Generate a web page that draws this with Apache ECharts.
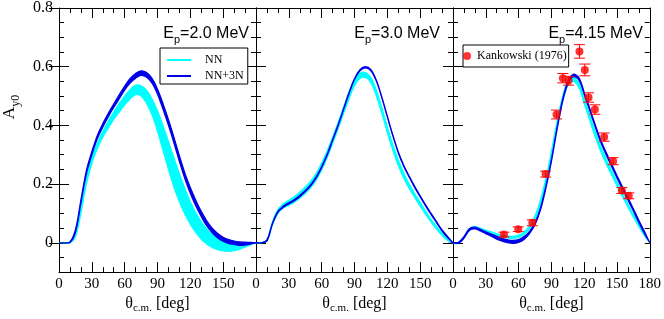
<!DOCTYPE html>
<html><head><meta charset="utf-8">
<script src="https://cdn.jsdelivr.net/npm/echarts@6/dist/echarts.min.js"></script>
<style>html,body{margin:0;padding:0;background:#fff}#c{width:664px;height:319px}</style>
</head><body><div id="c"></div>
<script>
// ---- data ----
const theta = [0,5,10,15,20,25,30,35,40,45,50,55,60,65,70,75,80,85,90,95,100,105,110,115,120,125,130,135,140,145,150,155,160,165,170,175,180];
const xTickLabels = [0,30,60,90,120,150,180];
const yTickLabels = [0,0.2,0.4,0.6,0.8];
const panelTitles = ['2.0','3.0','4.15'];

// Panel 1: Ep = 2.0 MeV
const nnLo1 = [0,0,-0.001,0.02,0.10,0.20,0.27,0.32,0.36,0.39,0.42,0.445,0.47,0.49,0.505,0.50,0.475,0.435,0.38,0.315,0.25,0.19,0.14,0.098,0.063,0.035,0.012,-0.004,-0.016,-0.024,-0.028,-0.029,-0.027,-0.022,-0.015,-0.007,0];
const nnHi1 = [0,0,0.001,0.03,0.12,0.22,0.29,0.34,0.38,0.415,0.445,0.475,0.50,0.522,0.537,0.535,0.52,0.49,0.45,0.40,0.345,0.29,0.235,0.185,0.14,0.103,0.072,0.047,0.028,0.014,0.005,0.0,-0.003,-0.004,-0.003,-0.001,0];
const n3Lo1 = [0,0,0.001,0.035,0.134,0.234,0.299,0.354,0.394,0.429,0.461,0.49,0.52,0.544,0.561,0.57,0.564,0.544,0.506,0.455,0.40,0.34,0.277,0.218,0.168,0.125,0.089,0.057,0.034,0.016,0.005,-0.003,-0.006,-0.009,-0.008,-0.005,0];
const n3Hi1 = [0,0,0.003,0.045,0.146,0.246,0.311,0.366,0.406,0.441,0.473,0.504,0.534,0.56,0.577,0.586,0.58,0.56,0.524,0.475,0.42,0.36,0.297,0.238,0.188,0.145,0.107,0.075,0.05,0.032,0.019,0.011,0.006,0.003,0.002,0.001,0];

// Panel 2: Ep = 3.0 MeV
const nnLo2 = [0,0,0.006,0.06,0.10,0.118,0.128,0.138,0.152,0.168,0.188,0.213,0.248,0.29,0.338,0.388,0.44,0.49,0.535,0.56,0.563,0.545,0.50,0.44,0.375,0.315,0.263,0.22,0.185,0.154,0.125,0.097,0.07,0.046,0.025,0.008,0];
const nnHi2 = [0,0,0.009,0.07,0.113,0.133,0.145,0.157,0.172,0.19,0.21,0.237,0.272,0.313,0.36,0.41,0.463,0.515,0.557,0.578,0.58,0.563,0.52,0.46,0.395,0.335,0.282,0.238,0.2,0.168,0.138,0.108,0.08,0.055,0.032,0.013,0];
const n3Lo2 = [0,0,0.006,0.063,0.103,0.121,0.132,0.143,0.157,0.174,0.194,0.221,0.256,0.298,0.348,0.398,0.453,0.508,0.556,0.586,0.596,0.586,0.55,0.493,0.428,0.364,0.306,0.26,0.223,0.188,0.156,0.125,0.096,0.068,0.04,0.018,0];
const n3Hi2 = [0,0,0.01,0.067,0.107,0.125,0.136,0.147,0.161,0.178,0.198,0.225,0.26,0.302,0.352,0.402,0.457,0.512,0.56,0.59,0.60,0.59,0.554,0.497,0.432,0.368,0.31,0.264,0.227,0.192,0.16,0.129,0.10,0.072,0.044,0.022,0];

// Panel 3: Ep = 4.15 MeV
const nnLo3 = [0,0,0.017,0.045,0.05,0.045,0.037,0.031,0.025,0.02,0.016,0.015,0.018,0.028,0.047,0.08,0.13,0.205,0.295,0.395,0.48,0.535,0.55,0.53,0.475,0.418,0.362,0.313,0.27,0.232,0.194,0.158,0.122,0.088,0.055,0.025,0];
const nnHi3 = [0,0.001,0.02,0.049,0.055,0.05,0.043,0.037,0.031,0.026,0.023,0.022,0.026,0.037,0.058,0.092,0.145,0.22,0.31,0.41,0.495,0.55,0.565,0.545,0.492,0.435,0.38,0.33,0.287,0.247,0.208,0.17,0.133,0.097,0.062,0.03,0];
const n3Lo3 = [0,-0.002,0.015,0.042,0.047,0.04,0.031,0.022,0.012,0.005,0.0,-0.002,0.001,0.011,0.031,0.061,0.111,0.186,0.276,0.381,0.476,0.541,0.566,0.556,0.506,0.451,0.396,0.344,0.301,0.261,0.221,0.183,0.146,0.108,0.069,0.032,0];
const n3Hi3 = [0,0.002,0.021,0.048,0.053,0.046,0.037,0.03,0.022,0.015,0.01,0.008,0.011,0.021,0.039,0.069,0.119,0.194,0.284,0.389,0.484,0.549,0.574,0.564,0.514,0.459,0.404,0.352,0.309,0.269,0.229,0.191,0.154,0.116,0.077,0.04,0];

// Kankowski (1976) data, panel 3
const expTheta = [46.6,59.7,72.5,84.7,94.7,100.5,105.7,115.7,120.6,124.0,129.8,138.3,146.5,154.4,160.8];
const expAy    = [0.028,0.046,0.068,0.234,0.437,0.561,0.552,0.652,0.589,0.495,0.454,0.360,0.278,0.178,0.160];
const expErr   = [0.008,0.008,0.010,0.010,0.015,0.016,0.015,0.023,0.020,0.016,0.016,0.014,0.012,0.010,0.010];

// ---- styling ----
const SERIF = 'Liberation Serif', SANS = 'Liberation Sans';
const CYAN = '#00ffff', BLUE = '#0000e6', RED = '#ff0000';
const panelLeft = [59, 256, 453];
const PW = 197, PT = 8, PH = 267;

const grid = panelLeft.map(l => ({left: l, top: PT, width: PW, height: PH, show: false}));

function xAx(i, pos) {
  const bottom = pos === 'bottom';
  return {
    type: 'value', gridIndex: i, position: pos, min: 0, max: 180, interval: 30,
    axisLine: {show: true, onZero: false, lineStyle: {color: '#000', width: 1}},
    axisTick: {show: true, inside: true, length: 10, lineStyle: {color: '#000', width: 1}},
    minorTick: {show: true, splitNumber: 3, length: 5, lineStyle: {color: '#000', width: 1}},
    splitLine: {show: false}, minorSplitLine: {show: false},
    axisLabel: bottom ? {
      show: true, margin: 4, color: '#000', fontFamily: SERIF, fontSize: 15,
      formatter: v => (xTickLabels.indexOf(v) < 0 || (i < 2 && v === 180)) ? '' : String(v)
    } : {show: false},
    name: bottom ? '{a|θ}{b|c.m.}{a| [deg]}' : '',
    nameLocation: 'middle', nameGap: 23,
    nameTextStyle: {
      color: '#000',
      rich: {
        a: {fontFamily: SERIF, fontSize: 16, lineHeight: 16, verticalAlign: 'top', color: '#000'},
        b: {fontFamily: SERIF, fontSize: 11, lineHeight: 11, padding: [7, 0, 0, 0], verticalAlign: 'top', color: '#000'}
      }
    }
  };
}
function yMinor(i, pos) {
  return {
    type: 'value', gridIndex: i, position: pos, min: -0.1, max: 0.8, interval: 0.05,
    axisLine: {show: true, onZero: false, lineStyle: {color: '#000', width: 1}},
    axisTick: {show: true, inside: true, length: 5, lineStyle: {color: '#000', width: 1}},
    axisLabel: {show: false}, splitLine: {show: false}
  };
}
function yMajor(i, pos, labels) {
  return {
    type: 'value', gridIndex: i, position: pos, min: -0.1, max: 0.8,
    axisLine: {show: false},
    axisTick: {show: true, inside: true, length: 10, customValues: yTickLabels, lineStyle: {color: '#000', width: 1}},
    axisLabel: labels ? {
      show: true, customValues: yTickLabels, margin: 6, color: '#000', fontFamily: SERIF, fontSize: 16,
      formatter: v => (Math.abs(v) < 1e-9 ? '0' : Number(v).toFixed(1))
    } : {show: false},
    splitLine: {show: false}
  };
}

const xAxis = [], yAxis = [];
for (let i = 0; i < 3; i++) {
  xAxis.push(xAx(i, 'bottom'), xAx(i, 'top'));
  yAxis.push(yMinor(i, 'left'), yMajor(i, 'left', i === 0), yMinor(i, 'right'), yMajor(i, 'right', false));
}

// band drawn as a polygon through the axes' scales (api.coord)
function band(name, lo, hi, color, panel, z) {
  return {
    type: 'custom', name: name, xAxisIndex: 2 * panel, yAxisIndex: 4 * panel, z: z, silent: true,
    itemStyle: {color: color},
    data: theta.map((t, k) => [t, lo[k], hi[k]]),
    encode: {x: 0, y: [1, 2]},
    renderItem: (params, api) => {
      if (params.dataIndex !== 0) return null;
      const pts = [];
      for (let k = 0; k < theta.length; k++) pts.push(api.coord([theta[k], hi[k]]));
      for (let k = theta.length - 1; k >= 0; k--) pts.push(api.coord([theta[k], lo[k]]));
      return {type: 'polygon', shape: {points: pts, smooth: 0.35},
        style: {fill: color, stroke: color, lineWidth: 1.2}};
    }
  };
}

const series = [
  band('NN', nnLo1, nnHi1, CYAN, 0, 2), band('NN+3N', n3Lo1, n3Hi1, BLUE, 0, 3),
  band('NN', nnLo2, nnHi2, CYAN, 1, 2), band('NN+3N', n3Lo2, n3Hi2, BLUE, 1, 3),
  band('NN', nnLo3, nnHi3, CYAN, 2, 2), band('NN+3N', n3Lo3, n3Hi3, BLUE, 2, 3),
  {
    type: 'custom', name: 'errbars', xAxisIndex: 4, yAxisIndex: 8, z: 5, silent: true,
    data: expTheta.map((t, k) => [t, expAy[k] - expErr[k], expAy[k] + expErr[k]]),
    encode: {x: 0, y: [1, 2]},
    renderItem: (params, api) => {
      const lo = api.coord([api.value(0), api.value(1)]);
      const hi = api.coord([api.value(0), api.value(2)]);
      const w = 5.5, st = {stroke: RED, lineWidth: 1};
      return {type: 'group', children: [
        {type: 'line', shape: {x1: lo[0], y1: lo[1], x2: hi[0], y2: hi[1]}, style: st},
        {type: 'line', shape: {x1: lo[0] - w, y1: lo[1], x2: lo[0] + w, y2: lo[1]}, style: st},
        {type: 'line', shape: {x1: hi[0] - w, y1: hi[1], x2: hi[0] + w, y2: hi[1]}, style: st}
      ]};
    }
  }, {
    type: 'scatter', name: 'Kankowski (1976)', xAxisIndex: 4, yAxisIndex: 8, z: 6,
    symbol: 'circle', symbolSize: 8, itemStyle: {color: RED},
    data: expTheta.map((t, k) => [t, expAy[k]])
  }
];

const titleRich = {
  e: {fontFamily: SANS, fontSize: 16, lineHeight: 16, verticalAlign: 'top', fill: '#000', color: '#000'},
  s: {fontFamily: SANS, fontSize: 11, lineHeight: 11, padding: [8, 0, 0, 0], verticalAlign: 'top', fill: '#000', color: '#000'}
};
const titleRight = [249, 440, 643];
const graphic = panelTitles.map((t, i) => ({
  type: 'text', x: titleRight[i], y: 26, z: 20,
  style: {text: '{e|E}{s|p}{e|=' + t + ' MeV}', rich: titleRich, textAlign: 'right', textVerticalAlign: 'top',
    fontFamily: SANS, fontSize: 16, fill: '#000'}
}));
graphic.push({
  type: 'text', x: 10, y: 107, rotation: Math.PI / 2, z: 20,
  style: {text: '{a|A}{b|y0}', textAlign: 'center', textVerticalAlign: 'middle', fontFamily: SERIF, fontSize: 17, fill: '#000',
    rich: {
      a: {fontFamily: SERIF, fontSize: 17, lineHeight: 17, verticalAlign: 'top', fill: '#000', color: '#000'},
      b: {fontFamily: SERIF, fontSize: 12, lineHeight: 12, padding: [8, 0, 0, 0], verticalAlign: 'top', fill: '#000', color: '#000'}
    }}
});

const legend = [{
  data: [{name: 'NN', icon: 'rect', itemStyle: {color: CYAN}}, {name: 'NN+3N', icon: 'rect', itemStyle: {color: BLUE}}],
  orient: 'vertical', left: 160, top: 48, padding: [6, 4, 2, 7], itemGap: 4,
  itemWidth: 24, itemHeight: 2,
  borderColor: '#000', borderWidth: 1, borderRadius: 0, backgroundColor: '#fff',
  formatter: '{t|{name}}',
  textStyle: {fontFamily: SERIF, fontSize: 12, color: '#000',
    rich: {t: {fontFamily: SERIF, fontSize: 12, color: '#000', padding: [0, 0, 0, 9]}}},
  selectedMode: false, z: 10
}, {
  data: [{name: 'Kankowski (1976)', icon: 'circle', itemStyle: {color: RED}}],
  orient: 'vertical', left: 463, top: 45, padding: [5, 2, 5, 0],
  itemWidth: 8, itemHeight: 8,
  borderColor: '#000', borderWidth: 1, borderRadius: 0, backgroundColor: '#fff',
  formatter: '{t|{name}}',
  textStyle: {fontFamily: SERIF, fontSize: 12, color: '#000',
    rich: {t: {fontFamily: SERIF, fontSize: 12, color: '#000', padding: [0, 0, 0, 1]}}},
  selectedMode: false, z: 10
}];

const chart = echarts.init(document.getElementById('c'), null, {renderer: 'canvas'});
chart.setOption({
  animation: false, backgroundColor: '#fff',
  grid, xAxis, yAxis, series, graphic, legend
});
</script>
</body></html>
